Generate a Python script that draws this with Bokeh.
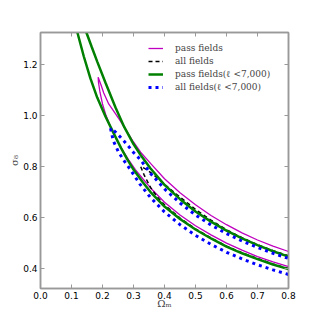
from bokeh.plotting import figure
from bokeh.models import LinearAxis, FixedTicker, PrintfTickFormatter, Legend, LegendItem
from bokeh.embed import file_html
from bokeh.resources import INLINE

# pass fields (magenta): lower branch up to tip, then upper branch down
pass_x = [0.80, 0.75, 0.70, 0.65, 0.60, 0.55, 0.50, 0.45, 0.40, 0.355, 0.33, 0.306, 0.285,
          0.27, 0.25, 0.226, 0.21, 0.20, 0.192, 0.187, 0.186,
          0.195, 0.204, 0.22, 0.24, 0.258, 0.28, 0.30, 0.323, 0.355, 0.40, 0.45, 0.50,
          0.55, 0.60, 0.65, 0.70, 0.75, 0.80]
pass_y = [0.408, 0.426, 0.447, 0.472, 0.50, 0.532, 0.568, 0.61, 0.66, 0.716, 0.752, 0.788, 0.825,
          0.853, 0.895, 0.955, 1.005, 1.045, 1.09, 1.13, 1.15,
          1.12, 1.088, 1.045, 1.01, 0.978, 0.935, 0.896, 0.856, 0.812, 0.752, 0.697, 0.650,
          0.608, 0.572, 0.540, 0.512, 0.488, 0.467]

# all fields (black dashed)
all_x = [0.80, 0.75, 0.70, 0.65, 0.60, 0.55, 0.50, 0.45, 0.40, 0.377, 0.355, 0.335, 0.323,
         0.34, 0.36, 0.38, 0.40, 0.44, 0.50, 0.55, 0.60, 0.65, 0.70, 0.75, 0.80]
all_y = [0.40, 0.418, 0.44, 0.462, 0.488, 0.52, 0.556, 0.598, 0.65, 0.68, 0.718, 0.765, 0.80,
         0.79, 0.772, 0.752, 0.73, 0.69, 0.632, 0.59, 0.552, 0.521, 0.494, 0.47, 0.45]

# pass fields (l < 7,000) (green): two open branches
passl_lo_x = [0.102, 0.119, 0.14, 0.161, 0.183, 0.21, 0.237, 0.26, 0.28, 0.30, 0.33, 0.355,
              0.40, 0.45, 0.50, 0.55, 0.60, 0.65, 0.70, 0.75, 0.80]
passl_lo_y = [1.40, 1.325, 1.23, 1.145, 1.07, 0.995, 0.928, 0.872, 0.828, 0.788, 0.738, 0.70,
              0.643, 0.594, 0.553, 0.518, 0.486, 0.46, 0.437, 0.416, 0.398]
passl_hi_x = [0.124, 0.148, 0.165, 0.183, 0.21, 0.242, 0.27, 0.30, 0.323, 0.355, 0.40, 0.45,
              0.50, 0.55, 0.60, 0.65, 0.70, 0.75, 0.80]
passl_hi_y = [1.40, 1.325, 1.269, 1.211, 1.127, 1.031, 0.955, 0.888, 0.845, 0.792, 0.728, 0.672,
              0.624, 0.584, 0.549, 0.518, 0.492, 0.468, 0.447]

# all fields (l < 7,000) (blue dotted)
alll_x = [0.80, 0.75, 0.70, 0.65, 0.60, 0.55, 0.50, 0.45, 0.40, 0.355, 0.32, 0.29, 0.27, 0.252,
          0.235, 0.226, 0.232, 0.242, 0.26, 0.28, 0.30, 0.323, 0.355, 0.40, 0.45, 0.50,
          0.55, 0.60, 0.65, 0.70, 0.75, 0.80]
alll_y = [0.377, 0.395, 0.415, 0.438, 0.464, 0.495, 0.53, 0.572, 0.622, 0.678, 0.732, 0.788, 0.822,
          0.856, 0.90, 0.949, 0.945, 0.935, 0.912, 0.885, 0.855, 0.826, 0.773, 0.712, 0.657,
          0.61, 0.571, 0.537, 0.508, 0.483, 0.46, 0.44]

legend_labels = ["pass fields", "all fields", "pass fields(\u2113 <7,000)", "all fields(\u2113 <7,000)"]
x_ticks = [0.0, 0.1, 0.2, 0.3, 0.4, 0.5, 0.6, 0.7, 0.8]
y_ticks = [0.4, 0.6, 0.8, 1.0, 1.2]

p = figure(width=316, height=316, output_backend="svg", toolbar_location=None,
           x_range=(0.0, 0.8), y_range=(0.322, 1.325),
           min_border_left=40, min_border_right=28, min_border_top=32, min_border_bottom=28)
p.xgrid.visible = False
p.ygrid.visible = False
p.outline_line_color = "#999999"
p.outline_line_width = 1.5

r1 = p.line(pass_x, pass_y, line_color="#bf00bf", line_width=1.3)
r2 = p.line(all_x, all_y, line_color="black", line_width=1.5, line_dash="4 3")
r3 = p.line(passl_lo_x, passl_lo_y, line_color="#008000", line_width=2.5)
p.line(passl_hi_x, passl_hi_y, line_color="#008000", line_width=2.5)
r4 = p.line(alll_x, alll_y, line_color="#0000ff", line_width=3, line_dash="3 4")

def style_axis(ax, ticks, show_labels):
    ax.ticker = FixedTicker(ticks=ticks)
    ax.major_tick_in = 4
    ax.major_tick_out = 0
    ax.minor_tick_line_color = None
    ax.axis_line_color = "#999999"
    ax.axis_line_width = 1.5
    ax.major_tick_line_color = "#999999"
    ax.major_label_text_font = "DejaVu Sans"
    ax.major_label_text_font_size = "9px"
    ax.major_label_text_color = "black"
    ax.major_label_standoff = 3
    if show_labels:
        ax.formatter = PrintfTickFormatter(format="%.1f")
    else:
        ax.major_label_overrides = {t: "" for t in ticks}
        ax.major_label_standoff = 0

style_axis(p.xaxis[0], x_ticks, True)
style_axis(p.yaxis[0], y_ticks, True)
p.xaxis[0].axis_label = "\u03a9\u2098"
p.yaxis[0].axis_label = "\u03c3\u2088"
for ax in (p.xaxis[0], p.yaxis[0]):
    ax.axis_label_text_font = "DejaVu Serif"
    ax.axis_label_text_font_style = "normal"
    ax.axis_label_text_font_size = "10px"
p.xaxis[0].axis_label_standoff = -4
p.yaxis[0].axis_label_standoff = 0

top = LinearAxis()
style_axis(top, x_ticks, False)
p.add_layout(top, "above")
right = LinearAxis()
style_axis(right, y_ticks, False)
p.add_layout(right, "right")

legend = Legend(items=[LegendItem(label=legend_labels[0], renderers=[r1]),
                       LegendItem(label=legend_labels[1], renderers=[r2]),
                       LegendItem(label=legend_labels[2], renderers=[r3]),
                       LegendItem(label=legend_labels[3], renderers=[r4])],
                location=(108, 195))
legend.border_line_color = None
legend.background_fill_alpha = 0
legend.padding = 2
legend.margin = 0
legend.spacing = 1
legend.glyph_width = 15
legend.glyph_height = 12
legend.label_standoff = 12
legend.label_text_font = "DejaVu Serif"
legend.label_text_font_size = "9px"
legend.label_height = 12
p.add_layout(legend, "center")

open("out.html", "w").write(file_html(p, INLINE))
